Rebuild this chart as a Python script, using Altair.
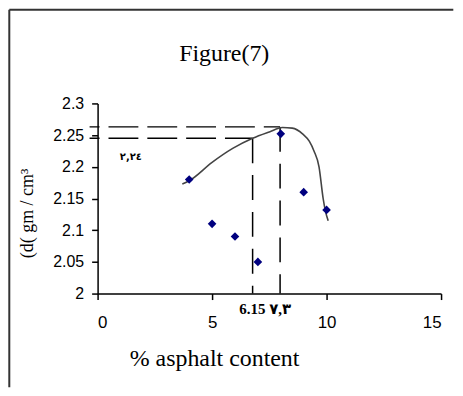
import altair as alt
import pandas as pd

# measured points
asphalt = [4, 5, 6, 7, 8, 9, 10]
density = [2.18, 2.11, 2.09, 2.05, 2.252, 2.16, 2.132]

# hand-drawn trend curve
curve_x = [3.7, 4.0, 5.0, 5.9, 6.77, 7.5, 8.07, 8.5, 8.95, 9.25, 9.45, 9.67, 9.85, 9.95, 10.07]
curve_y = [2.173, 2.178, 2.207, 2.229, 2.245, 2.255, 2.262, 2.261, 2.252, 2.240, 2.225, 2.200, 2.150, 2.130, 2.115]

# dashed guide lines
h_x = [-0.35, -0.35]
h_x2 = [7.97, 6.77]
h_y = [2.263, 2.245]
v_x = [6.77, 7.97]
v_y = [2.245, 2.263]
v_y2 = [2.0, 2.0]

x_ticks = [0, 5, 10, 15]
y_ticks = [2.0, 2.05, 2.1, 2.15, 2.2, 2.25, 2.3]

title_text = ["Figure(7)"]
title_x = [5.53]
title_y = [2.3675]

note1_text = ["٢,٢٤"]
note1_x = [1.45]
note1_y = [2.215]

note2_text = ["6.15 ٧,٣"]
note2_x = [7.32]
note2_y = [1.976]

SERIF = "Liberation Serif"
SANS = "Liberation Sans"

xs = alt.Scale(domain=[0, 15], nice=False, zero=False)
ys = alt.Scale(domain=[2.0, 2.3], nice=False, zero=False)

pts_df = pd.DataFrame({"x": asphalt, "y": density})
curve_df = pd.DataFrame({"x": curve_x, "y": curve_y})
h_df = pd.DataFrame({"x": h_x, "x2": h_x2, "y": h_y})
v_df = pd.DataFrame({"x": v_x, "y": v_y, "y2": v_y2})

x_axis = alt.Axis(
    values=x_ticks, title="% asphalt content", grid=False, labelOverlap=False,
    tickSize=6, tickWidth=1.5, tickColor="black",
    domainColor="black", domainWidth=1.5,
    labelFont=SANS, labelFontSize=17, labelColor="black", labelPadding=15,
    titleFont=SERIF, titleFontSize=24, titleFontWeight="normal", titleColor="black",
    titleX=117, titleY=72.5, titleAlign="center", titleBaseline="alphabetic",
)
y_axis = alt.Axis(
    values=y_ticks, format=".2~f", title="(d( gm / cm³", grid=False, labelOverlap=False,
    tickSize=6, tickWidth=1.5, tickColor="black",
    domainColor="black", domainWidth=1.5,
    labelFont=SANS, labelFontSize=16, labelColor="black", labelPadding=8,
    titleFont=SERIF, titleFontSize=18, titleFontWeight="normal", titleColor="black",
    titleAngle=270, titleX=-65, titleY=110, titleAlign="center", titleBaseline="alphabetic",
)

X = alt.X("x:Q", scale=xs, axis=x_axis)
Y = alt.Y("y:Q", scale=ys, axis=y_axis)

base_pts = alt.Chart(pts_df).mark_point(
    shape="diamond", filled=True, size=75, color="#00007f", opacity=1
).encode(x=X, y=Y)

curve = alt.Chart(curve_df).mark_line(
    interpolate="monotone", color="#444444", strokeWidth=1.6
).encode(x=X, y=Y)

h_rules = alt.Chart(h_df).mark_rule(
    color="black", strokeWidth=1.5, strokeDash=[30, 9], strokeDashOffset=20
).encode(x=X, x2="x2:Q", y=Y)

v_rules = alt.Chart(v_df).mark_rule(
    color="black", strokeWidth=1.5, strokeDash=[25, 12]
).encode(x=X, y=Y, y2="y2:Q")

title = alt.Chart(pd.DataFrame({"x": title_x, "y": title_y, "t": title_text})).mark_text(
    font=SERIF, fontSize=24, color="black", align="center", baseline="alphabetic"
).encode(x=X, y=Y, text="t:N")

note1 = alt.Chart(pd.DataFrame({"x": note1_x, "y": note1_y, "t": note1_text})).mark_text(
    font="DejaVu Sans", fontSize=10, fontWeight="bold", color="black", align="center", baseline="middle"
).encode(x=X, y=Y, text="t:N")

note2 = alt.Chart(pd.DataFrame({"x": note2_x, "y": note2_y, "t": note2_text})).mark_text(
    font=SERIF + ", DejaVu Sans", fontSize=15, fontWeight="bold", color="black", align="center", baseline="middle"
).encode(x=X, y=Y, text="t:N")

one = pd.DataFrame({"k": [0]})
frame_top = alt.Chart(one).mark_rule(color="#333333", strokeWidth=2).encode(
    x=alt.value(-88.7), x2=alt.value(357.3), y=alt.value(-94)
)
frame_left = alt.Chart(one).mark_rule(color="#333333", strokeWidth=2).encode(
    x=alt.value(-88.7), y=alt.value(-94), y2=alt.value(285)
)

chart = alt.layer(
    frame_top, frame_left, h_rules, v_rules, curve, base_pts, title, note1, note2
).properties(
    width=345, height=191, padding=0, background="white"
).configure_view(stroke=None)

chart.save("out.html", embed_options={"renderer": "svg", "actions": False})
